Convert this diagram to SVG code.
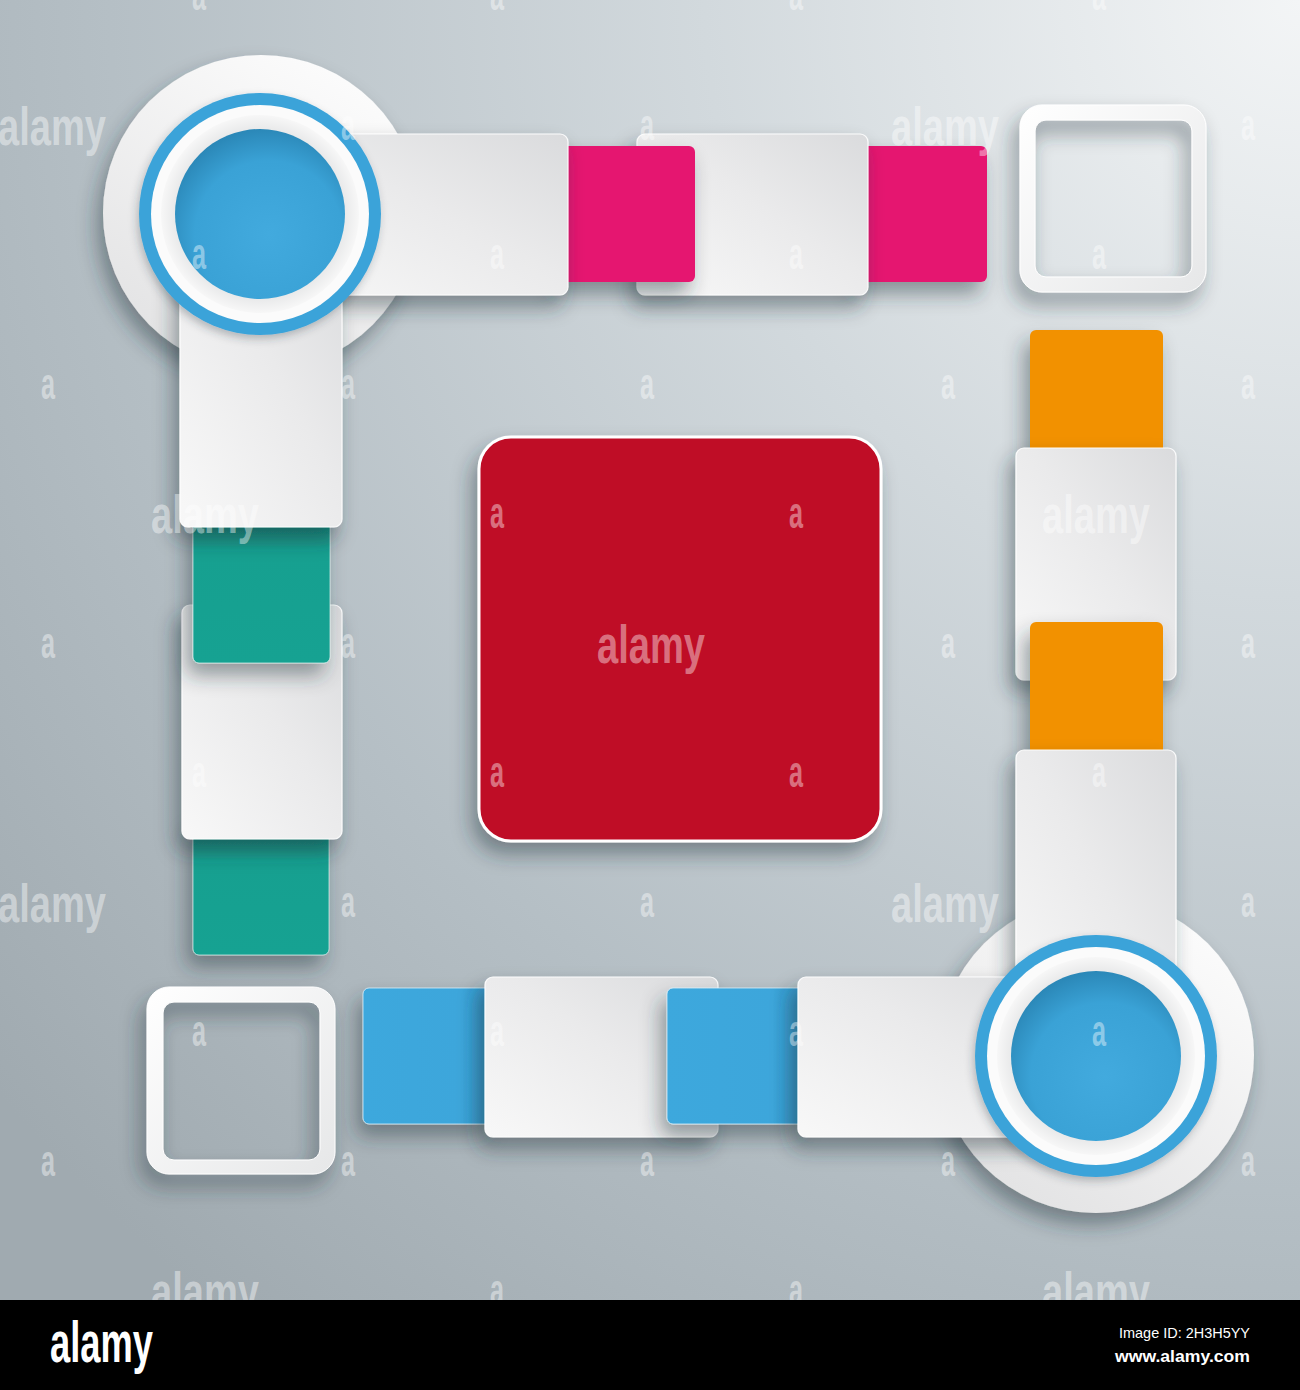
<svg xmlns="http://www.w3.org/2000/svg" width="1300" height="1390" viewBox="0 0 1300 1390">
<defs>
  <radialGradient id="bg" gradientUnits="userSpaceOnUse" cx="1300" cy="0" r="1700">
    <stop offset="0" stop-color="#f3f5f6"/>
    <stop offset="0.35" stop-color="#d2d9dd"/>
    <stop offset="0.7" stop-color="#b5bfc5"/>
    <stop offset="1" stop-color="#a0aab0"/>
  </radialGradient>
  <linearGradient id="wt" x1="0" y1="1" x2="1" y2="0">
    <stop offset="0" stop-color="#f8f8f8"/>
    <stop offset="0.55" stop-color="#eaeaeb"/>
    <stop offset="1" stop-color="#dadbdd"/>
  </linearGradient>
  <linearGradient id="wc" x1="0.8" y1="0" x2="0.2" y2="1">
    <stop offset="0" stop-color="#fdfdfd"/>
    <stop offset="1" stop-color="#e2e2e3"/>
  </linearGradient>
  <linearGradient id="wf" x1="0" y1="0" x2="1" y2="1">
    <stop offset="0" stop-color="#ffffff"/>
    <stop offset="1" stop-color="#e6e7e8"/>
  </linearGradient>
  <radialGradient id="bev" cx="0.5" cy="0.5" r="0.5">
    <stop offset="0.8" stop-color="#e3e4e5"/>
    <stop offset="1" stop-color="#f7f7f7"/>
  </radialGradient>
  <radialGradient id="blc" cx="0.55" cy="0.62" r="0.62">
    <stop offset="0" stop-color="#42aade"/>
    <stop offset="0.7" stop-color="#3aa2d6"/>
    <stop offset="1" stop-color="#2b88b8"/>
  </radialGradient>
  <linearGradient id="tealg" x1="0" y1="0" x2="0" y2="1">
    <stop offset="0" stop-color="#0b7f74"/>
    <stop offset="0.3" stop-color="#16a090"/>
    <stop offset="1" stop-color="#17a292"/>
  </linearGradient>
  <linearGradient id="blsq" x1="0" y1="0" x2="1" y2="0">
    <stop offset="0" stop-color="#3ea8dd"/>
    <stop offset="0.75" stop-color="#3ca6db"/>
    <stop offset="1" stop-color="#2f8fc2"/>
  </linearGradient>
  <filter id="sh" x="-25%" y="-20%" width="150%" height="160%">
    <feDropShadow dx="-6" dy="12" stdDeviation="10" flood-color="#22303a" flood-opacity="0.45"/>
  </filter>
  <filter id="sh2" x="-20%" y="-20%" width="140%" height="150%">
    <feDropShadow dx="-2" dy="4" stdDeviation="4" flood-color="#26343c" flood-opacity="0.3"/>
  </filter>
  <style>
    .tile{fill:url(#wt);stroke:#ffffff;stroke-opacity:.9;stroke-width:1.2;filter:url(#sh)}
    .pink{fill:#e5156f;filter:url(#sh)}
    .teal{fill:url(#tealg);stroke:#d8f0ec;stroke-opacity:.7;stroke-width:1;filter:url(#sh)}
    .orange{fill:#f29100;filter:url(#sh)}
    .blue{fill:url(#blsq);stroke:#d6ecf7;stroke-opacity:.8;stroke-width:1;filter:url(#sh)}
    .frame{fill:url(#wf);fill-rule:evenodd;stroke:#ffffff;stroke-width:1;filter:url(#sh)}
    .bigc{fill:url(#wc);filter:url(#sh)}
    .ring{fill:#3ba3d9;filter:url(#sh2)}
    .wm{font-family:"Liberation Sans",Arial,sans-serif;font-weight:bold;fill:#ffffff;fill-opacity:.42;text-anchor:middle}
    .wa{font-size:44px}
    .wl{font-size:53px}
  </style>
</defs>

<rect id="background" x="0" y="0" width="1300" height="1300" fill="url(#bg)"/>

<g id="frame-top-right">
  <path class="frame" d="M1042,105 H1184 A22 22 0 0 1 1206 127 V270 A22 22 0 0 1 1184 292 H1042 A22 22 0 0 1 1020 270 V127 A22 22 0 0 1 1042 105 Z M1046,120 H1181 A11 11 0 0 1 1192 131 V266 A11 11 0 0 1 1181 277 H1046 A11 11 0 0 1 1035 266 V131 A11 11 0 0 1 1046 120 Z"/>
</g>
<g id="frame-bottom-left">
  <path class="frame" d="M169,987 H313 A22 22 0 0 1 335 1009 V1152 A22 22 0 0 1 313 1174 H169 A22 22 0 0 1 147 1152 V1009 A22 22 0 0 1 169 987 Z M174,1002 H309 A11 11 0 0 1 320 1013 V1149 A11 11 0 0 1 309 1160 H174 A11 11 0 0 1 163 1149 V1013 A11 11 0 0 1 174 1002 Z"/>
</g>

<g id="center-square">
  <rect x="479" y="437" width="402" height="404" rx="32" fill="#bf0a26" stroke="#ffffff" stroke-width="3" filter="url(#sh)"/>
</g>

<g id="top-row">
  <rect id="pink-2" class="pink" x="855" y="146" width="132" height="136" rx="6"/>
  <rect id="tile-top-2" class="tile" x="637" y="134" width="231" height="161" rx="8"/>
  <rect id="pink-1" class="pink" x="555" y="146" width="140" height="136" rx="6"/>
</g>

<g id="left-column">
  <rect id="teal-2" class="teal" x="193" y="820" width="136" height="135" rx="6"/>
  <rect id="tile-left-2" class="tile" x="182" y="605" width="160" height="234" rx="8"/>
  <rect id="teal-1" class="teal" x="193" y="505" width="137" height="158" rx="6"/>
</g>

<g id="right-column">
  <rect id="orange-1" class="orange" x="1030" y="330" width="133" height="135" rx="6"/>
  <rect id="tile-right-1" class="tile" x="1016" y="448" width="160" height="232" rx="8"/>
  <rect id="orange-2" class="orange" x="1030" y="622" width="133" height="140" rx="6"/>
</g>

<g id="bottom-row">
  <rect id="blue-1" class="blue" x="363" y="988" width="132" height="136" rx="6"/>
  <rect id="tile-bottom-1" class="tile" x="485" y="977" width="233" height="160" rx="8"/>
  <rect id="blue-2" class="blue" x="667" y="988" width="141" height="136" rx="6"/>
</g>

<g id="corner-top-left">
  <circle class="bigc" cx="261" cy="213" r="158"/>
  <rect class="tile" x="260" y="134" width="308" height="161" rx="8"/>
  <rect class="tile" x="180" y="214" width="162" height="313" rx="8"/>
  <circle class="ring" cx="260" cy="214" r="121"/>
  <circle cx="260" cy="214" r="109" fill="#fbfbfb"/>
  <circle cx="260" cy="214" r="99" fill="url(#bev)"/>
  <circle cx="260" cy="214" r="85" fill="url(#blc)"/>
</g>

<g id="corner-bottom-right">
  <circle class="bigc" cx="1096" cy="1055" r="158"/>
  <rect class="tile" x="1016" y="750" width="160" height="310" rx="8"/>
  <rect class="tile" x="798" y="977" width="298" height="160" rx="8"/>
  <circle class="ring" cx="1096" cy="1056" r="121"/>
  <circle cx="1096" cy="1056" r="109" fill="#fbfbfb"/>
  <circle cx="1096" cy="1056" r="99" fill="url(#bev)"/>
  <circle cx="1096" cy="1056" r="85" fill="url(#blc)"/>
</g>

<g id="watermark" class="wm">
  <text class="wa" x="199" y="10" textLength="14" lengthAdjust="spacingAndGlyphs">a</text>
  <text class="wa" x="497" y="10" textLength="14" lengthAdjust="spacingAndGlyphs">a</text>
  <text class="wa" x="796" y="10" textLength="14" lengthAdjust="spacingAndGlyphs">a</text>
  <text class="wa" x="1099" y="10" textLength="14" lengthAdjust="spacingAndGlyphs">a</text>
  <text class="wl" x="52" y="145" textLength="108" lengthAdjust="spacingAndGlyphs">alamy</text>
  <text class="wa" x="348" y="140" textLength="14" lengthAdjust="spacingAndGlyphs">a</text>
  <text class="wa" x="647" y="140" textLength="14" lengthAdjust="spacingAndGlyphs">a</text>
  <text class="wl" x="945" y="145" textLength="108" lengthAdjust="spacingAndGlyphs">alamy</text>
  <text class="wa" x="1248" y="140" textLength="14" lengthAdjust="spacingAndGlyphs">a</text>
  <text class="wa" x="199" y="269" textLength="14" lengthAdjust="spacingAndGlyphs">a</text>
  <text class="wa" x="497" y="269" textLength="14" lengthAdjust="spacingAndGlyphs">a</text>
  <text class="wa" x="796" y="269" textLength="14" lengthAdjust="spacingAndGlyphs">a</text>
  <text class="wa" x="1099" y="269" textLength="14" lengthAdjust="spacingAndGlyphs">a</text>
  <text class="wa" x="48" y="399" textLength="14" lengthAdjust="spacingAndGlyphs">a</text>
  <text class="wa" x="348" y="399" textLength="14" lengthAdjust="spacingAndGlyphs">a</text>
  <text class="wa" x="647" y="399" textLength="14" lengthAdjust="spacingAndGlyphs">a</text>
  <text class="wa" x="948" y="399" textLength="14" lengthAdjust="spacingAndGlyphs">a</text>
  <text class="wa" x="1248" y="399" textLength="14" lengthAdjust="spacingAndGlyphs">a</text>
  <text class="wl" x="205" y="533" textLength="108" lengthAdjust="spacingAndGlyphs">alamy</text>
  <text class="wa" x="497" y="528" textLength="14" lengthAdjust="spacingAndGlyphs">a</text>
  <text class="wa" x="796" y="528" textLength="14" lengthAdjust="spacingAndGlyphs">a</text>
  <text class="wl" x="1096" y="533" textLength="108" lengthAdjust="spacingAndGlyphs">alamy</text>
  <text class="wa" x="48" y="658" textLength="14" lengthAdjust="spacingAndGlyphs">a</text>
  <text class="wa" x="348" y="658" textLength="14" lengthAdjust="spacingAndGlyphs">a</text>
  <text class="wl" x="651" y="663" textLength="108" lengthAdjust="spacingAndGlyphs">alamy</text>
  <text class="wa" x="948" y="658" textLength="14" lengthAdjust="spacingAndGlyphs">a</text>
  <text class="wa" x="1248" y="658" textLength="14" lengthAdjust="spacingAndGlyphs">a</text>
  <text class="wa" x="199" y="787" textLength="14" lengthAdjust="spacingAndGlyphs">a</text>
  <text class="wa" x="497" y="787" textLength="14" lengthAdjust="spacingAndGlyphs">a</text>
  <text class="wa" x="796" y="787" textLength="14" lengthAdjust="spacingAndGlyphs">a</text>
  <text class="wa" x="1099" y="787" textLength="14" lengthAdjust="spacingAndGlyphs">a</text>
  <text class="wl" x="52" y="922" textLength="108" lengthAdjust="spacingAndGlyphs">alamy</text>
  <text class="wa" x="348" y="917" textLength="14" lengthAdjust="spacingAndGlyphs">a</text>
  <text class="wa" x="647" y="917" textLength="14" lengthAdjust="spacingAndGlyphs">a</text>
  <text class="wl" x="945" y="922" textLength="108" lengthAdjust="spacingAndGlyphs">alamy</text>
  <text class="wa" x="1248" y="917" textLength="14" lengthAdjust="spacingAndGlyphs">a</text>
  <text class="wa" x="199" y="1046" textLength="14" lengthAdjust="spacingAndGlyphs">a</text>
  <text class="wa" x="497" y="1046" textLength="14" lengthAdjust="spacingAndGlyphs">a</text>
  <text class="wa" x="796" y="1046" textLength="14" lengthAdjust="spacingAndGlyphs">a</text>
  <text class="wa" x="1099" y="1046" textLength="14" lengthAdjust="spacingAndGlyphs">a</text>
  <text class="wa" x="48" y="1176" textLength="14" lengthAdjust="spacingAndGlyphs">a</text>
  <text class="wa" x="348" y="1176" textLength="14" lengthAdjust="spacingAndGlyphs">a</text>
  <text class="wa" x="647" y="1176" textLength="14" lengthAdjust="spacingAndGlyphs">a</text>
  <text class="wa" x="948" y="1176" textLength="14" lengthAdjust="spacingAndGlyphs">a</text>
  <text class="wa" x="1248" y="1176" textLength="14" lengthAdjust="spacingAndGlyphs">a</text>
  <text class="wl" x="205" y="1310" textLength="108" lengthAdjust="spacingAndGlyphs">alamy</text>
  <text class="wa" x="497" y="1305" textLength="14" lengthAdjust="spacingAndGlyphs">a</text>
  <text class="wa" x="796" y="1305" textLength="14" lengthAdjust="spacingAndGlyphs">a</text>
  <text class="wl" x="1096" y="1310" textLength="108" lengthAdjust="spacingAndGlyphs">alamy</text>
</g>

<g id="footer">
  <rect x="0" y="1300" width="1300" height="90" fill="#000000"/>
  <text x="50" y="1362" font-family="Liberation Sans, Arial, sans-serif" font-weight="bold" font-size="58" fill="#ffffff" textLength="103" lengthAdjust="spacingAndGlyphs">alamy</text>
  <text x="1250" y="1338" font-family="Liberation Sans, Arial, sans-serif" font-size="15" fill="#ffffff" text-anchor="end" textLength="131" lengthAdjust="spacingAndGlyphs">Image ID: 2H3H5YY</text>
  <text x="1250" y="1362" font-family="Liberation Sans, Arial, sans-serif" font-weight="bold" font-size="17" fill="#ffffff" text-anchor="end" textLength="135" lengthAdjust="spacingAndGlyphs">www.alamy.com</text>
</g>
</svg>
